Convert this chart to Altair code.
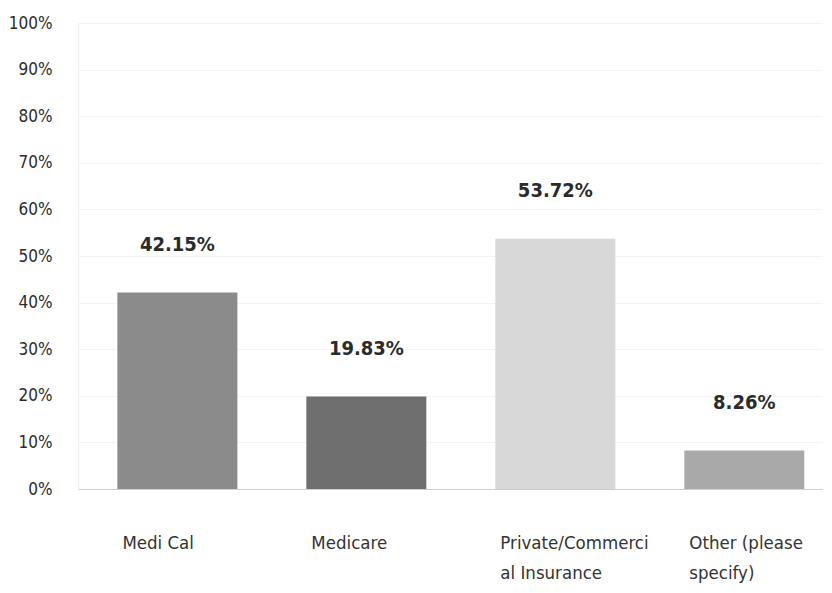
import altair as alt
import pandas as pd

categories = ["Medi Cal", "Medicare", "Private/Commercial Insurance", "Other (please specify)"]
values = [42.15, 19.83, 53.72, 8.26]
bar_colors = ["#8b8b8b", "#6f6f6f", "#d8d8d8", "#a9a9a9"]
label_lines = [["Medi Cal"], ["Medicare"], ["Private/Commerci", "al Insurance"], ["Other (please", "specify)"]]
y_ticks = list(range(0, 101, 10))

df = pd.DataFrame({"cat": categories, "val": values})
df["txt"] = [f"{v:.2f}%" for v in values]

# label expression mapping each category to its wrapped lines
expr = "''"
for c, lines in reversed(list(zip(categories, label_lines))):
    arr = "[" + ",".join("'" + l + "'" for l in lines) + "]"
    expr = f"datum.label == '{c}' ? {arr} : ({expr})"

FONT = "Liberation Sans Narrow, DejaVu Sans Condensed, sans-serif"

x = alt.X("cat:N", sort=categories, title=None,
          scale=alt.Scale(paddingInner=0.365, paddingOuter=0.151, align=0.69),
          axis=alt.Axis(labelExpr=expr, labelAngle=0, labelAlign="left", labelOffset=-55,
                        labelBaseline="top", labelPadding=44, labelLineHeight=30,
                        labelFont=FONT, labelFontSize=18.5, labelColor="#333333",
                        ticks=False, domainColor="#cfcfcf", grid=False))
y = alt.Y("val:Q", title=None,
          scale=alt.Scale(domain=[0, 100], nice=False),
          axis=alt.Axis(values=y_ticks, labelExpr="datum.value + '%'", ticks=False,
                        labelPadding=26, labelFont=FONT, labelFontSize=17, labelColor="#2b2b2b",
                        domainColor="#ececec", gridColor="#f3f3f3", gridWidth=1))

bars = alt.Chart(df).mark_bar().encode(
    x=x, y=y,
    color=alt.Color("cat:N", sort=categories,
                    scale=alt.Scale(domain=categories, range=bar_colors), legend=None),
)
text = alt.Chart(df).mark_text(dy=-48, baseline="middle", font=FONT, fontSize=20,
                               fontWeight="bold", color="#2b2b2b").encode(
    x=alt.X("cat:N", sort=categories), y="val:Q", text="txt:N")

chart = (bars + text).properties(
    width=744, height=466,
    autosize=alt.AutoSizeParams(type="none"),
    padding={"left": 70, "top": 15, "right": 2, "bottom": 94},
).configure_view(stroke=None)

chart.save("out.html", embed_options={"renderer": "svg", "actions": False})
